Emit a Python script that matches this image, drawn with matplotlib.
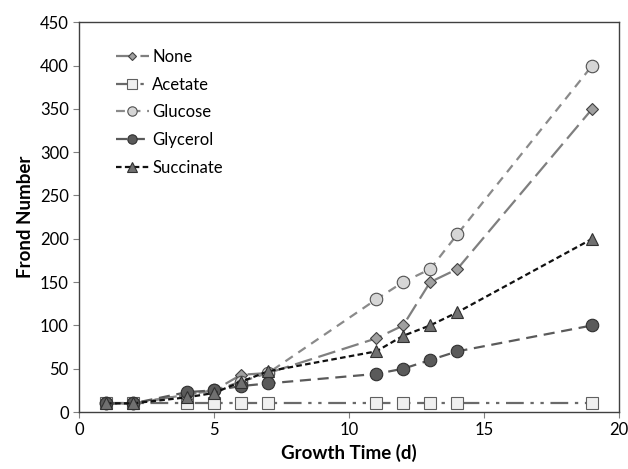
import matplotlib.pyplot as plt
import numpy as np

days = [1, 2, 4, 5, 6, 7, 11, 12, 13, 14, 19]
none = [10, 10, 20, 25, 43, 45, 85, 100, 150, 165, 350]
acetate = [10, 10, 10, 10, 10, 10, 10, 10, 10, 10, 10]
glucose = [10, 10, 20, 25, 35, 45, 130, 150, 165, 205, 400]
glycerol = [10, 10, 23, 25, 30, 33, 44, 50, 60, 70, 100]
succinate = [10, 10, 17, 22, 35, 47, 70, 88, 100, 115, 200]

plt.rcParams['font.family'] = ['Lato', 'DejaVu Sans']

fig = plt.figure(figsize=(6.28, 4.69), dpi=100)
ax = fig.add_axes([0.126, 0.1215, 0.86, 0.831])

ax.plot(days, none, color="#7f7f7f", lw=1.6, dashes=(8, 3), marker="D", ms=6,
        mfc="#a0a0a0", mec="#404040", mew=0.8, label="None")
ax.plot(days, acetate, color="#6a6a6a", lw=1.6, dashes=(8, 3, 1.5, 3, 1.5, 3), marker="s", ms=9,
        mfc="#f0f0f0", mec="#606060", mew=0.8, label="Acetate")
ax.plot(days, glucose, color="#8a8a8a", lw=1.6, dashes=(4, 3), marker="o", ms=9,
        mfc="#d6d6d6", mec="#505050", mew=0.8, label="Glucose")
ax.plot(days, glycerol, color="#5a5a5a", lw=1.6, dashes=(5, 3), marker="o", ms=9,
        mfc="#5a5a5a", mec="#303030", mew=0.8, label="Glycerol")
ax.plot(days, succinate, color="#111111", lw=1.6, dashes=(2.5, 1.5), marker="^", ms=9,
        mfc="#707070", mec="#303030", mew=0.8, label="Succinate")

ax.set_xlim(0, 20)
ax.set_ylim(0, 450)
ax.set_xticks([0, 5, 10, 15, 20])
ax.set_yticks(np.arange(0, 451, 50))
ax.tick_params(labelsize=12, length=4, color="#808080")
for s in ax.spines.values():
    s.set_color("#404040")
    s.set_linewidth(1.0)

ax.set_xlabel("Growth Time (d)", fontsize=13.5, fontweight="bold")
ax.set_ylabel("Frond Number", fontsize=13.5, fontweight="bold")

leg = ax.legend(loc="upper left", bbox_to_anchor=(0.04, 0.97), frameon=False,
                fontsize=12, handlelength=2.0, handletextpad=0.2, labelspacing=0.7,
                markerscale=0.75)

plt.savefig("out.png", dpi=100)
